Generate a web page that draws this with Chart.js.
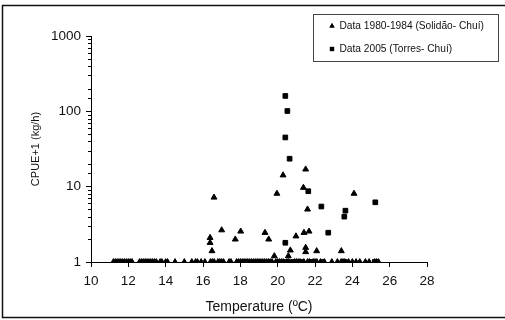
<!DOCTYPE html>
<html>
<head>
<meta charset="utf-8">
<script src="https://cdn.jsdelivr.net/npm/chart.js@4.4.1/dist/chart.umd.min.js"></script>
<style>
  body { margin: 0; background: #fff; }
</style>
</head>
<body>
<canvas id="chart" width="505" height="320"></canvas>
<script>
const FONT = 'Arial, "Liberation Sans", sans-serif';

const seriesNames = ['Data 1980-1984 (Solidão- Chuí)', 'Data 2005 (Torres- Chuí)'];

// 1980-1984 tows with a catch: temperature (ºC) and CPUE+1 (kg/h)
const temp8084 = [16.38, 16.38, 16.48, 16.59, 17.0, 17.73, 18.02, 19.32, 19.52, 19.82,
  19.96, 20.29, 20.57, 20.68, 20.98, 21.38, 21.5, 21.41, 21.68, 21.6, 21.5, 21.5, 22.09, 23.41, 24.09];
const cpue8084 = [2.1, 1.8, 1.4, 7.2, 2.65, 2.0, 2.55, 2.45, 2.0, 1.2,
  8.1, 14.2, 1.2, 1.43, 2.2, 9.7, 17, 2.45, 2.55, 5.0, 1.55, 1.36, 1.4, 1.4, 8.1];
// 1980-1984 tows with no catch (CPUE+1 = 1)
const zero8084 = [11.2, 11.3, 11.4, 11.5, 11.6, 11.7, 11.8, 11.9, 12.0, 12.1, 12.2,
  12.6, 12.7, 12.8, 12.9, 13.0, 13.1, 13.2, 13.3, 13.4, 13.5, 13.7, 13.8, 14.0, 14.1,
  14.5, 15.0, 15.4, 15.6, 15.7, 15.9, 16.1,
  16.4, 16.5, 16.6, 16.8, 16.9, 17.0, 17.1, 17.4, 17.5,
  17.8, 17.9, 18.0, 18.1, 18.2, 18.3, 18.4, 18.5, 18.6, 18.7, 18.8, 18.9, 19.0, 19.1,
  19.2, 19.3, 19.4, 19.5, 19.6, 19.7, 19.9, 20.0, 20.1, 20.2, 20.3, 20.5, 20.6,
  20.9, 21.0, 21.1, 21.2, 21.4, 21.6, 21.7, 21.9, 22.0, 22.1,
  22.3, 22.5, 22.9, 23.2, 23.4, 23.5, 23.6, 23.8, 24.0, 24.2, 24.4, 24.7, 24.9, 25.2, 25.3, 25.4];

// 2005 tows with a catch
const temp2005 = [20.41, 20.52, 20.41, 20.64, 20.41, 21.64, 22.34, 22.71, 23.57, 23.63, 25.23];
const cpue2005 = [160, 101, 45, 23.5, 1.8, 8.7, 5.45, 2.45, 4.0, 4.8, 6.2];
// 2005 tows with no catch
const zero2005 = [20.4, 20.8, 21.3, 21.8, 22.4, 23.6, 25.2];

const xMin = 10, xMax = 28, xStep = 2;
const yMin = 1, yMax = 1000;

function points(temps, vals) {
  return temps.map((t, i) => ({ x: t, y: vals[i] }));
}
function zeros(temps) {
  return temps.map(t => ({ x: t, y: 1 }));
}

const isDecade = v => Math.abs(Math.log10(v) - Math.round(Math.log10(v))) < 1e-9;

// shorter minor ticks on the log axis, frame and boxed legend
const decor = {
  id: 'decor',
  afterDraw(chart) {
    const ctx = chart.ctx;
    const y = chart.scales.y;
    ctx.save();
    ctx.strokeStyle = '#000';
    ctx.lineWidth = 1;
    ctx.beginPath();
    y.ticks.forEach(t => {
      if (isDecade(t.value)) return;
      const py = Math.round(y.getPixelForValue(t.value)) + 0.5;
      ctx.moveTo(y.right - 3, py);
      ctx.lineTo(y.right, py);
    });
    ctx.stroke();

    // outer frame
    ctx.lineWidth = 1.5;
    ctx.strokeStyle = '#111';
    ctx.strokeRect(2.5, 5.5, 520, 312);

    // legend box
    ctx.lineWidth = 1;
    ctx.strokeStyle = '#444';
    ctx.strokeRect(313.5, 14.5, 185, 47);
    ctx.font = '10.2px ' + FONT;
    ctx.textBaseline = 'middle';
    ctx.textAlign = 'left';
    chart.data.datasets.forEach((ds, i) => {
      const ly = 26 + i * 23;
      Chart.helpers.drawPoint(ctx, {
        pointStyle: ds.pointStyle, radius: 3, rotation: 0, borderWidth: 0
      }, 332, ly);
      ctx.fillStyle = '#000';
      ctx.fill();
      ctx.fillStyle = '#111';
      ctx.fillText(ds.label, 339.5, ly);
    });
    ctx.restore();
  }
};

new Chart(document.getElementById('chart'), {
  type: 'scatter',
  data: {
    datasets: [
      { label: seriesNames[0], data: points(temp8084, cpue8084).concat(zeros(zero8084)),
        pointStyle: 'triangle', radius: 3.4, backgroundColor: '#000', borderColor: '#000', borderWidth: 1 },
      { label: seriesNames[1], data: points(temp2005, cpue2005).concat(zeros(zero2005)),
        pointStyle: 'rect', radius: 3.3, backgroundColor: '#000', borderColor: '#000', borderWidth: 1 }
    ]
  },
  options: {
    responsive: false,
    animation: false,
    layout: { padding: { left: 0, right: 78, top: 36, bottom: 0 } },
    plugins: {
      legend: { display: false },
      tooltip: { enabled: false }
    },
    scales: {
      x: {
        type: 'linear',
        min: xMin,
        max: xMax,
        afterFit(scale) { scale.height = 58; },
        ticks: { stepSize: xStep, padding: 6, color: '#111', font: { family: FONT, size: 13.5 } },
        grid: { drawOnChartArea: false, drawTicks: true, tickLength: 5, tickColor: '#000' },
        border: { color: '#000', width: 1 },
        title: { display: true, text: 'Temperature (ºC)', color: '#111',
          font: { family: FONT, size: 14 }, padding: { top: 0, bottom: 4.5 } }
      },
      y: {
        type: 'logarithmic',
        min: yMin,
        max: yMax,
        afterFit(scale) { scale.width = 91; },
        ticks: {
          autoSkip: false,
          padding: 5,
          color: '#111',
          font: { family: FONT, size: 13.5 },
          callback: v => isDecade(v) ? String(v) : ''
        },
        grid: {
          drawOnChartArea: false, drawTicks: true, tickLength: 5,
          tickColor: c => (c.tick && isDecade(c.tick.value)) ? '#000' : 'rgba(0,0,0,0)'
        },
        border: { color: '#000', width: 1 },
        title: { display: true, text: 'CPUE+1 (kg/h)', color: '#111',
          font: { family: FONT, size: 11 }, padding: { top: 29, bottom: 0 } }
      }
    }
  },
  plugins: [decor]
});
</script>
</body>
</html>
